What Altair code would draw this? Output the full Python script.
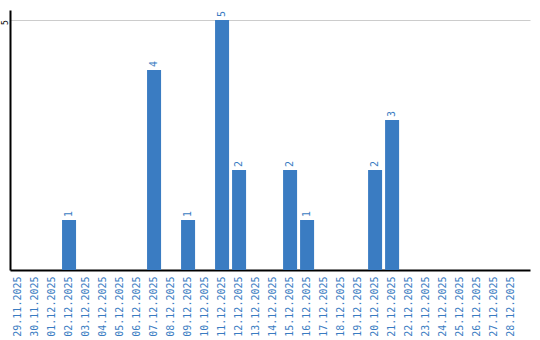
import altair as alt
import pandas as pd

dates = ["29.11.2025", "30.11.2025", "01.12.2025", "02.12.2025", "03.12.2025",
         "04.12.2025", "05.12.2025", "06.12.2025", "07.12.2025", "08.12.2025",
         "09.12.2025", "10.12.2025", "11.12.2025", "12.12.2025", "13.12.2025",
         "14.12.2025", "15.12.2025", "16.12.2025", "17.12.2025", "18.12.2025",
         "19.12.2025", "20.12.2025", "21.12.2025", "22.12.2025", "23.12.2025",
         "24.12.2025", "25.12.2025", "26.12.2025", "27.12.2025", "28.12.2025"]
counts = [0, 0, 0, 1, 0, 0, 0, 0, 4, 0,
          1, 0, 5, 2, 0, 0, 2, 1, 0, 0,
          0, 2, 3, 0, 0, 0, 0, 0, 0, 0]

df = pd.DataFrame({"date": dates, "count": counts})
blue = "#3a7cc2"
FONT = "DejaVu Sans Mono"

xscale = alt.Scale(domain=dates, paddingInner=0.176, paddingOuter=0.38, align=0.08)
yscale = alt.Scale(domain=[0, 5.2], nice=False)

base = alt.Chart(df).encode(
    x=alt.X("date:N", scale=xscale, sort=None, title=None,
            axis=alt.Axis(labelAngle=-90, labelColor=blue, labelFont=FONT, labelFontSize=10,
                          labelAlign="right", labelBaseline="middle", labelPadding=6,
                          ticks=False, domainColor="#000000", domainWidth=2, grid=False)),
)

bars = base.mark_bar(color=blue).encode(
    y=alt.Y("count:Q", scale=yscale, title=None,
            axis=alt.Axis(values=[5], labelAngle=-90, labelAlign="center", labelBaseline="alphabetic",
                          labelFont=FONT, labelFontSize=8, labelColor="#000000", labelPadding=3,
                          labelOffset=2,
                          ticks=False, domainColor="#000000", domainWidth=2,
                          grid=True, gridColor="#cccccc", gridWidth=1))
)

labels = base.transform_filter(alt.datum["count"] > 0).mark_text(
    angle=270, align="left", baseline="middle", dx=3, color=blue, font=FONT, fontSize=10
).encode(
    y=alt.Y("count:Q", scale=yscale),
    text="count:Q",
)

chart = (bars + labels).properties(
    width=520, height=260,
    autosize=alt.AutoSizeParams(type="none"),
    padding={"left": 10, "top": 10, "right": 10, "bottom": 70},
    background="#ffffff",
).configure_view(stroke=None)

chart.save("out.html", embed_options={"renderer": "svg", "actions": False})
